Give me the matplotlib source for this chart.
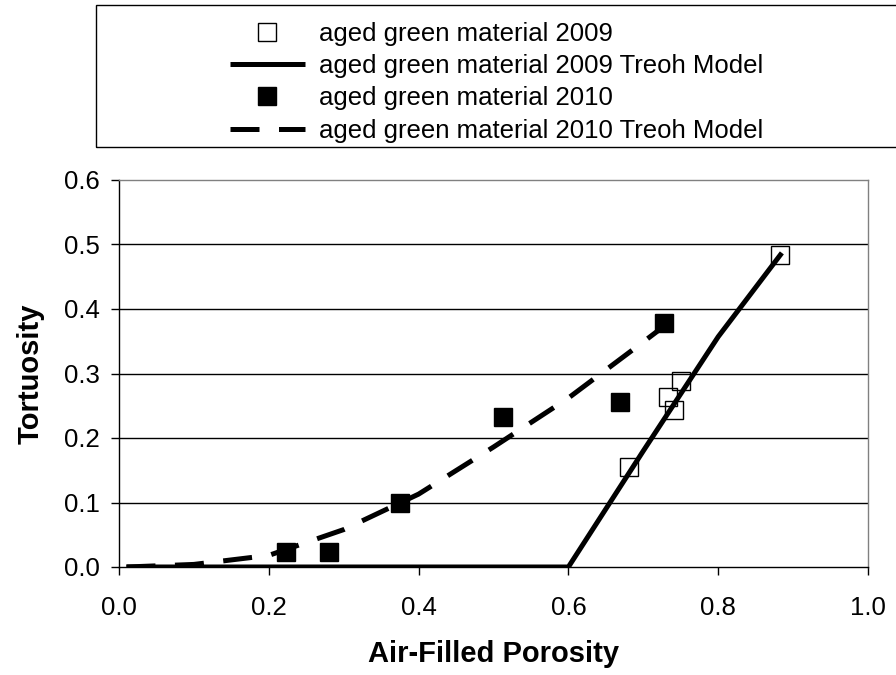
import matplotlib
matplotlib.use("Agg")
import matplotlib.pyplot as plt
from matplotlib.patches import Rectangle

plt.rcParams["font.family"] = ["Liberation Sans", "DejaVu Sans"]

# measured tortuosity, aged green material
por_2009 = [0.6810, 0.7325, 0.7410, 0.7500, 0.8825]
tort_2009 = [0.155, 0.264, 0.243, 0.288, 0.484]
por_2010 = [0.223, 0.280, 0.375, 0.513, 0.669, 0.727]
tort_2010 = [0.023, 0.023, 0.100, 0.233, 0.256, 0.378]

# Treoh model curves
mod_x_2009 = [0.01, 0.1, 0.2, 0.3, 0.4, 0.5, 0.6, 0.7, 0.8, 0.885]
mod_y_2009 = [0.0, 0.0, 0.0, 0.0, 0.0, 0.0, 0.0, 0.18, 0.357, 0.487]
mod_x_2010 = [0.01, 0.1, 0.2, 0.3, 0.4, 0.5, 0.6, 0.7, 0.725]
mod_y_2010 = [0.0, 0.004, 0.018, 0.058, 0.113, 0.186, 0.262, 0.349, 0.371]

labels = ["aged green material 2009",
          "aged green material 2009 Treoh Model",
          "aged green material 2010",
          "aged green material 2010 Treoh Model"]

W, H = 896, 675
fig = plt.figure(figsize=(W / 100, H / 100), dpi=100)
ax = fig.add_axes([119 / W, 1 - 567 / H, (868 - 119) / W, (567 - 180) / H])

h1, = ax.plot(por_2009, tort_2009, ls="none", marker="s", ms=13,
              mfc="none", mec="black", mew=1.0, zorder=3)
h2, = ax.plot(mod_x_2009, mod_y_2009, color="black", lw=3.6,
              solid_capstyle="butt", zorder=4)
h3, = ax.plot(por_2010, tort_2010, ls="none", marker="s", ms=13,
              mfc="black", mec="black", zorder=5)
h4, = ax.plot(mod_x_2010, mod_y_2010, color="black", lw=3.6,
              dashes=(5.8, 3.9), dash_capstyle="butt", zorder=6)

ax.set_xlim(0, 1.0)
ax.set_ylim(0, 0.6)
ax.set_xticks([0.0, 0.2, 0.4, 0.6, 0.8, 1.0])
ax.set_yticks([0.0, 0.1, 0.2, 0.3, 0.4, 0.5, 0.6])
ax.xaxis.set_major_formatter(matplotlib.ticker.FormatStrFormatter("%.1f"))
ax.yaxis.set_major_formatter(matplotlib.ticker.FormatStrFormatter("%.1f"))
ax.tick_params(axis="both", direction="out", length=6, width=1,
               labelsize=18.5, color="black")
ax.tick_params(axis="x", pad=15)
ax.tick_params(axis="y", pad=8)

for y in [0.1, 0.2, 0.3, 0.4, 0.5]:
    ax.axhline(y, color="black", lw=1.0, zorder=1)

ax.spines["left"].set_color("black")
ax.spines["bottom"].set_color("black")
ax.spines["top"].set_color("#808080")
ax.spines["right"].set_color("#808080")
for s in ax.spines.values():
    s.set_linewidth(1.0)

ax.set_xlabel("Air-Filled Porosity", fontsize=21, fontweight="bold")
ax.set_ylabel("Tortuosity", fontsize=21, fontweight="bold")
ax.xaxis.set_label_coords(0.5, (567 - 654) / 387)
ax.xaxis.label.set_verticalalignment("center")
ax.yaxis.set_label_coords((31 - 119) / 749, 0.5)
ax.yaxis.label.set_verticalalignment("center")

# legend box across the top
fig.patches.append(Rectangle((96 / W, 1 - 147 / H), 820 / W, 142 / H,
                             transform=fig.transFigure, fill=False,
                             ec="black", lw=1.0))
fig.legend([h1, h2, h3, h4], labels, loc="upper left",
           bbox_to_anchor=(230 / W, 1 - 22 / H), frameon=False,
           fontsize=18.5, handlelength=2.9, handletextpad=0.55,
           labelspacing=0.32, borderpad=0, borderaxespad=0)

fig.savefig("out.png", dpi=100)
